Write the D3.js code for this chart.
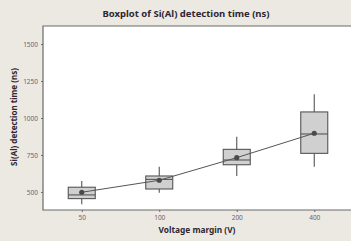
<!DOCTYPE html>
<html>
<head>
<meta charset="utf-8">
<script src="https://cdn.jsdelivr.net/npm/d3@7"></script>
<style>
  html, body { margin: 0; padding: 0; background: #ece9e3; overflow: hidden; }
  svg { display: block; }
</style>
</head>
<body>
<div id="chart"></div>
<script>
const width = 351;
const height = 241;

// Data
const categories = ["50", "100", "200", "400"];
const whiskerLow = [417, 495, 608, 671];
const q1 = [455, 520, 684, 761];
const median = [480, 585, 716, 892];
const q3 = [532, 608, 788, 1041];
const whiskerHigh = [574, 671, 874, 1160];
const means = [498, 579, 732, 897];
const yTicks = [500, 750, 1000, 1250, 1500];

const margin = { top: 26, right: -2, bottom: 31, left: 43 };
const font = "'Noto Sans', 'Open Sans', sans-serif";

const svg = d3.select("#chart")
  .append("svg")
  .attr("width", width)
  .attr("height", height);

const x = d3.scalePoint()
  .domain(categories)
  .range([margin.left, width - margin.right])
  .padding(0.5);

const y = d3.scaleLinear()
  .domain([378, 1622])
  .range([height - margin.bottom, margin.top]);

const plotTop = margin.top, plotBottom = height - margin.bottom;

// plot area, its right side is cut off by the picture edge
svg.append("rect")
  .attr("x", margin.left)
  .attr("y", plotTop)
  .attr("width", width - margin.left)
  .attr("height", plotBottom - plotTop)
  .attr("fill", "#fff");

svg.append("path")
  .attr("d", `M${width},${plotTop}H${margin.left}V${plotBottom}H${width}`)
  .attr("fill", "none")
  .attr("stroke", "#6a6a6a")
  .attr("stroke-width", 1.2);

// axes
const yAxis = svg.append("g")
  .attr("transform", `translate(${margin.left},0)`)
  .call(d3.axisLeft(y).tickValues(yTicks).tickFormat(d3.format("d")).tickSize(2).tickPadding(3));

const xAxis = svg.append("g")
  .attr("transform", `translate(0,${plotBottom})`)
  .call(d3.axisBottom(x).tickSize(2).tickPadding(3));

[yAxis, xAxis].forEach(g => {
  g.select(".domain").remove();
  g.selectAll(".tick line").attr("stroke", "#6a6a6a");
  g.selectAll(".tick text")
    .attr("fill", "#6b6470")
    .style("font-family", font)
    .style("font-size", "6.5px");
});

// boxes
const boxW = 27;
const rows = categories.map((c, i) => ({
  c, lo: whiskerLow[i], q1: q1[i], med: median[i], q3: q3[i], hi: whiskerHigh[i], mean: means[i]
}));

const boxes = svg.append("g").selectAll("g")
  .data(rows)
  .join("g");

boxes.append("line")
  .attr("x1", d => x(d.c)).attr("x2", d => x(d.c))
  .attr("y1", d => y(d.hi)).attr("y2", d => y(d.q3))
  .attr("stroke", "#555").attr("stroke-width", 1.1);

boxes.append("line")
  .attr("x1", d => x(d.c)).attr("x2", d => x(d.c))
  .attr("y1", d => y(d.q1)).attr("y2", d => y(d.lo))
  .attr("stroke", "#555").attr("stroke-width", 1.1);

boxes.append("rect")
  .attr("x", d => x(d.c) - boxW / 2)
  .attr("y", d => y(d.q3))
  .attr("width", boxW)
  .attr("height", d => y(d.q1) - y(d.q3))
  .attr("fill", "#d0d0d0")
  .attr("stroke", "#555")
  .attr("stroke-width", 1.1);

boxes.append("line")
  .attr("x1", d => x(d.c) - boxW / 2).attr("x2", d => x(d.c) + boxW / 2)
  .attr("y1", d => y(d.med)).attr("y2", d => y(d.med))
  .attr("stroke", "#555").attr("stroke-width", 1.1);

// mean connect line
svg.append("path")
  .datum(rows)
  .attr("fill", "none")
  .attr("stroke", "#555")
  .attr("stroke-width", 1)
  .attr("d", d3.line().x(d => x(d.c)).y(d => y(d.mean)));

svg.append("g").selectAll("circle")
  .data(rows)
  .join("circle")
  .attr("cx", d => x(d.c))
  .attr("cy", d => y(d.mean))
  .attr("r", 2.6)
  .attr("fill", "#4a4a4a");

// titles
svg.append("text")
  .attr("x", 186)
  .attr("y", 17)
  .attr("text-anchor", "middle")
  .attr("fill", "#2e2630")
  .style("font-family", font)
  .style("font-weight", "bold")
  .style("font-size", "9.5px")
  .text("Boxplot of Si(Al) detection time (ns)");

svg.append("text")
  .attr("x", 197)
  .attr("y", 233)
  .attr("text-anchor", "middle")
  .attr("fill", "#2e2630")
  .style("font-family", font)
  .style("font-weight", "bold")
  .style("font-size", "8.3px")
  .text("Voltage margin (V)");

svg.append("text")
  .attr("transform", "translate(17,117) rotate(-90)")
  .attr("text-anchor", "middle")
  .attr("fill", "#2e2630")
  .style("font-family", font)
  .style("font-weight", "bold")
  .style("font-size", "8px")
  .text("Si(Al) detection time (ns)");
</script>
</body>
</html>
